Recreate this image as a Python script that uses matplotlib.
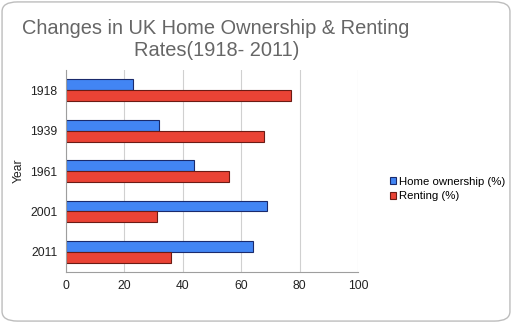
import matplotlib.pyplot as plt
import numpy as np
from matplotlib.patches import FancyBboxPatch

plt.rcParams['font.family'] = ['Liberation Sans', 'DejaVu Sans']

years = ['1918', '1939', '1961', '2001', '2011']
home_ownership = [23, 32, 44, 69, 64]
renting = [77, 68, 56, 31, 36]
x_ticks = [0, 20, 40, 60, 80, 100]

blue = '#4285f4'
red = '#ea4335'

fig = plt.figure(figsize=(5.12, 3.23), dpi=100)

# rounded outer border
border = FancyBboxPatch((0.004, 0.006), 0.992, 0.988,
                        boxstyle='round,pad=0,rounding_size=0.03',
                        transform=fig.transFigure, facecolor='white',
                        edgecolor='#bdbdbd', linewidth=1.0, zorder=-10)
fig.patches.append(border)

ax = fig.add_axes([0.129, 0.158, 0.570, 0.625])
ax.set_facecolor('none')

y = np.arange(len(years))
h = 0.27
ax.barh(y - h / 2, home_ownership, height=h, color=blue,
        edgecolor='#1a2a6c', linewidth=0.8, label='Home ownership (%)', zorder=3)
ax.barh(y + h / 2, renting, height=h, color=red,
        edgecolor='#6b1b14', linewidth=0.8, label='Renting (%)', zorder=3)

ax.set_ylim(-0.5, len(years) - 0.5)
ax.invert_yaxis()
ax.set_yticks(y)
ax.set_yticklabels(years, fontsize=8.7, color='#222222')
ax.set_xlim(0, 100)
ax.set_xticks(x_ticks)
ax.set_xticklabels([str(t) for t in x_ticks], fontsize=8.7, color='#222222')
ax.tick_params(length=0, pad=6)
ax.xaxis.grid(True, color='#d0d0d0', linewidth=0.8, zorder=0)
for s in ['top', 'right']:
    ax.spines[s].set_visible(False)
ax.spines['left'].set_color('#9e9e9e')
ax.spines['bottom'].set_color('#9e9e9e')
ax.spines['left'].set_zorder(4)
ax.set_ylabel('Year', fontsize=8.7, color='#222222', labelpad=4)

fig.text(0.421, 0.913, 'Changes in UK Home Ownership & Renting', ha='center',
         va='center', fontsize=14.4, color='#666666')
fig.text(0.424, 0.845, 'Rates(1918- 2011)', ha='center', va='center',
         fontsize=14.4, color='#666666')

fig.legend(loc='center left', bbox_to_anchor=(0.752, 0.415), frameon=False,
           fontsize=8.2, handlelength=0.6, handleheight=0.6, handletextpad=0.25,
           labelspacing=0.4, borderaxespad=0)

fig.savefig('out.png', dpi=100)
